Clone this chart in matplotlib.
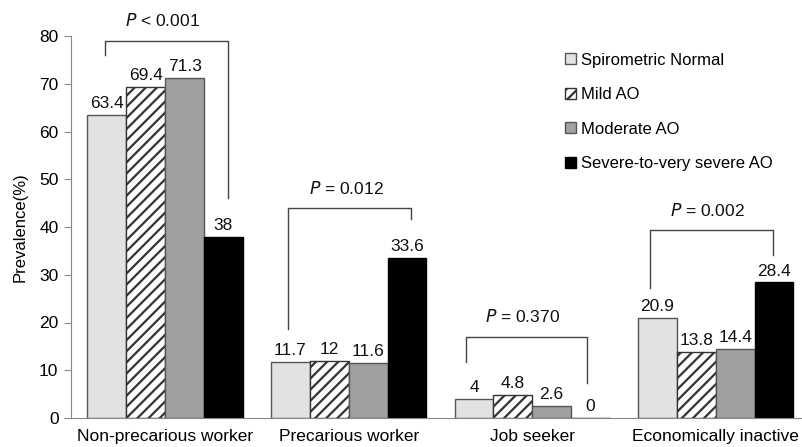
import matplotlib
matplotlib.use("Agg")
import matplotlib.pyplot as plt
import numpy as np

categories = ["Non-precarious worker", "Precarious worker", "Job seeker", "Economically inactive"]
series_names = ["Spirometric Normal", "Mild AO", "Moderate AO", "Severe-to-very severe AO"]
normal = [63.4, 11.7, 4, 20.9]
mild = [69.4, 12, 4.8, 13.8]
moderate = [71.3, 11.6, 2.6, 14.4]
severe = [38, 33.6, 0, 28.4]
p_labels = ["< 0.001", "= 0.012", "= 0.370", "= 0.002"]
value_labels = [["63.4", "11.7", "4", "20.9"], ["69.4", "12", "4.8", "13.8"],
                ["71.3", "11.6", "2.6", "14.4"], ["38", "33.6", "0", "28.4"]]
yticks = [0, 10, 20, 30, 40, 50, 60, 70, 80]

plt.rcParams['font.family'] = ['Liberation Sans', 'DejaVu Sans']
plt.rcParams['hatch.linewidth'] = 1.6
plt.rcParams['hatch.color'] = 'black'

fig = plt.figure(figsize=(8.02, 4.47), dpi=100)
ax = fig.add_axes([71/802, 1-418/447, 1-71/802, (418-36)/447])

x = np.arange(len(categories))
w = 0.2116
styles = [dict(facecolor='#e2e2e2', edgecolor='#555555', hatch=None),
          dict(facecolor='white', edgecolor='#333333', hatch='///'),
          dict(facecolor='#a0a0a0', edgecolor='#555555', hatch=None),
          dict(facecolor='black', edgecolor='black', hatch=None)]
data = [normal, mild, moderate, severe]
for i, (vals, st, name) in enumerate(zip(data, styles, series_names)):
    pos = x + (i - 1.5) * w
    ax.bar(pos, vals, width=w, label=name, linewidth=1.0, **st)
    for p, v, lab in zip(pos, vals, value_labels[i]):
        ax.text(p, v + 0.8, lab, ha='center', va='bottom', fontsize=12.5, color='#111111')

# significance brackets: (left offset, right offset, top, left bottom, right bottom, label y)
brackets = [(-0.33, 0.34, 79.0, 76.0, 46.0, 81.4),
            (-0.33, 0.34, 43.9, 18.6, 41.6, 46.3),
            (-0.36, 0.30, 17.0, 11.8, 7.3, 19.4),
            (-0.36, 0.31, 39.3, 27.2, 34.1, 41.6)]
for xi, (lo, ro, top, lb, rb, ly), pl in zip(x, brackets, p_labels):
    ax.plot([xi + lo, xi + lo, xi + ro, xi + ro], [lb, top, top, rb],
            color='#444444', linewidth=1.0, clip_on=False)
    ax.text(xi + (lo + ro) / 2 - 0.02, ly, "$P$ " + pl, ha='center', va='bottom',
            fontsize=12.5, color='#111111', clip_on=False)

ax.set_xlim(-0.513, 3.47)
ax.set_ylim(0, 80)
ax.set_yticks(yticks)
ax.set_xticks(x)
ax.set_xticklabels(categories, fontsize=12.5)
ax.tick_params(axis='x', length=0, pad=8)
ax.tick_params(axis='y', labelsize=12.5, length=5, color='#888888', pad=4)
for s in ['top', 'right']:
    ax.spines[s].set_visible(False)
ax.spines['left'].set_color('#888888')
ax.spines['bottom'].set_color('#888888')
ax.set_ylabel("Prevalence(%)", fontsize=12, labelpad=8)

ax.legend(loc='upper left', bbox_to_anchor=(0.655, 0.996), frameon=False, fontsize=12,
          handlelength=0.65, handleheight=0.65, handletextpad=0.3, labelspacing=1.17)

fig.savefig("out.png", dpi=100)
